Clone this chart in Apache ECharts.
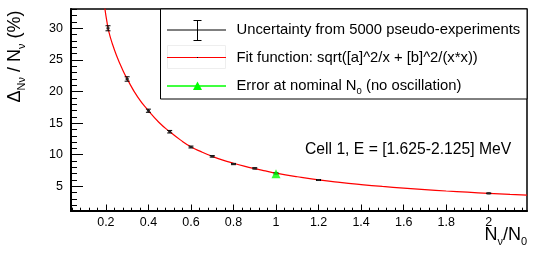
<!DOCTYPE html>
<html>
<head>
<meta charset="utf-8">
<script src="https://cdn.jsdelivr.net/npm/echarts@6/dist/echarts.min.js"></script>
<style>
html,body{margin:0;padding:0;background:#fff;}
#chart{width:540px;height:254px;}
</style>
</head>
<body>
<div id="chart"></div>
<script>
// ---- data ----
const pointX   = [0.21, 0.3, 0.4, 0.5, 0.6, 0.7, 0.8, 0.9, 1.0, 1.2, 2.0];
const pointY   = [30.0, 21.98, 16.96, 13.64, 11.22, 9.75, 8.53, 7.85, 7.05, 6.0, 3.89];
const pointErr = [0.4, 0.35, 0.25, 0.2, 0.15, 0.12, 0.1, 0.1, 0.1, 0.08, 0.06];
const nominalX = [1.0];
const nominalY = [6.98];
const curveX = [0.195, 0.205, 0.215, 0.23, 0.25, 0.275, 0.3, 0.35, 0.4, 0.45, 0.5, 0.55, 0.6, 0.65, 0.7, 0.75, 0.8, 0.85, 0.9, 0.95, 1.0, 1.1, 1.2, 1.3, 1.4, 1.5, 1.6, 1.7, 1.8, 1.9, 2.0, 2.1, 2.18];
const curveY = [33.2, 31.0, 29.3, 27.6, 25.7, 23.7, 22.0, 19.1, 16.96, 15.1, 13.64, 12.35, 11.25, 10.45, 9.75, 9.15, 8.65, 8.2, 7.8, 7.44, 7.09, 6.52, 6.02, 5.62, 5.28, 4.98, 4.72, 4.48, 4.26, 4.07, 3.89, 3.73, 3.62];
const xTickLabels = [0.2, 0.4, 0.6, 0.8, 1, 1.2, 1.4, 1.6, 1.8, 2];
const yTickLabels = [5, 10, 15, 20, 25, 30];
const xMinorStep = 0.04;
const yMinorStep = 1;

const X_MIN = 0.036, X_MAX = 2.18, Y_MIN = 1.1, Y_MAX = 33.05;

function minorTicks(min, max, step, majors) {
  const out = [];
  for (let i = Math.ceil(min / step - 1e-9); i * step <= max + 1e-9; i++) {
    const v = +(i * step).toFixed(6);
    if (!majors.some(m => Math.abs(m - v) < 1e-6)) out.push(v);
  }
  return out;
}
const xMinor = minorTicks(X_MIN, X_MAX, xMinorStep, xTickLabels);
const yMinor = minorTicks(Y_MIN, Y_MAX, yMinorStep, yTickLabels);

const FONT = 'Liberation Sans, Arial, Helvetica, sans-serif';
const chart = echarts.init(document.getElementById('chart'), null, {renderer: 'canvas'});

const pointData = pointX.map((x, i) => [x, pointY[i], pointErr[i]]);
const curveData = curveX.map((x, i) => [x, curveY[i]]);
const nominalData = nominalX.map((x, i) => [x, nominalY[i]]);

const bigRich = {
  m: {fontSize: 18, lineHeight: 18, fontFamily: FONT, verticalAlign: 'top', fill: '#000'},
  s: {fontSize: 11, lineHeight: 11, fontFamily: FONT, verticalAlign: 'top', padding: [10, 0, 0, 0], fill: '#000'}
};
const legRich = {
  m: {fontSize: 14.8, lineHeight: 15, fontFamily: FONT, verticalAlign: 'top', fill: '#000'},
  s: {fontSize: 9.5, lineHeight: 10, fontFamily: FONT, verticalAlign: 'top', padding: [8, 0, 0, 0], fill: '#000'}
};

const option = {
  animation: false,
  backgroundColor: '#fff',
  grid: {left: 71, right: 13, top: 9, bottom: 43, show: true, borderColor: '#000', borderWidth: 1.5, backgroundColor: 'transparent'},
  xAxis: [{
    type: 'value', min: X_MIN, max: X_MAX, position: 'bottom',
    axisLine: {show: true, onZero: false, lineStyle: {color: '#000', width: 2}},
    axisTick: {show: true, inside: true, length: 6.5, customValues: xTickLabels, lineStyle: {color: '#000', width: 1}},
    axisLabel: {show: true, customValues: xTickLabels, margin: 5, color: '#000', fontSize: 12.5, fontFamily: FONT,
      formatter: v => String(+v.toFixed(2))},
    splitLine: {show: false}
  }, {
    type: 'value', min: X_MIN, max: X_MAX, position: 'bottom', offset: 0,
    axisLine: {show: false, onZero: false},
    axisTick: {show: true, inside: true, length: 3.3, customValues: xMinor, lineStyle: {color: '#000', width: 1}},
    axisLabel: {show: false},
    splitLine: {show: false}
  }],
  yAxis: [{
    type: 'value', min: Y_MIN, max: Y_MAX, position: 'left',
    axisLine: {show: true, onZero: false, lineStyle: {color: '#000', width: 2}},
    axisTick: {show: true, inside: true, length: 12, customValues: yTickLabels, lineStyle: {color: '#000', width: 1}},
    axisLabel: {show: true, customValues: yTickLabels, margin: 8, color: '#000', fontSize: 12.5, fontFamily: FONT},
    splitLine: {show: false}
  }, {
    type: 'value', min: Y_MIN, max: Y_MAX, position: 'left', offset: 0,
    axisLine: {show: false, onZero: false},
    axisTick: {show: true, inside: true, length: 6, customValues: yMinor, lineStyle: {color: '#000', width: 1}},
    axisLabel: {show: false},
    splitLine: {show: false}
  }],
  series: [{
    type: 'line', data: curveData, xAxisIndex: 0, yAxisIndex: 0,
    smooth: 0.5, symbol: 'none', clip: true,
    lineStyle: {color: '#ff0000', width: 1.2}, z: 2
  }, {
    type: 'custom', data: pointData, xAxisIndex: 0, yAxisIndex: 0, z: 3,
    encode: {x: 0, y: 1},
    renderItem: function (params, api) {
      const x = api.value(0), y = api.value(1), e = api.value(2);
      const c = api.coord([x, y]);
      const t = api.coord([x, y + e]);
      const b = api.coord([x, y - e]);
      const st = {stroke: '#000', lineWidth: 1};
      return {type: 'group', children: [
        {type: 'line', shape: {x1: c[0], y1: t[1], x2: c[0], y2: b[1]}, style: st},
        {type: 'line', shape: {x1: c[0] - 2.5, y1: t[1], x2: c[0] + 2.5, y2: t[1]}, style: st},
        {type: 'line', shape: {x1: c[0] - 2.5, y1: b[1], x2: c[0] + 2.5, y2: b[1]}, style: st},
        {type: 'rect', shape: {x: c[0] - 1.5, y: c[1] - 1, width: 3, height: 2}, style: {fill: '#222'}}
      ]};
    }
  }, {
    type: 'scatter', data: nominalData, xAxisIndex: 0, yAxisIndex: 0, z: 4,
    symbol: 'triangle', symbolSize: [9, 9],
    itemStyle: {color: '#00ff00'}
  }],
  graphic: [
    // legend box
    {type: 'rect', z: 100, shape: {x: 160.5, y: 9, width: 366.5, height: 90}, style: {fill: '#fff', stroke: '#000', lineWidth: 1}},
    // row 1: error bar symbol
    {type: 'line', z: 101, shape: {x1: 167, y1: 30, x2: 226, y2: 30}, style: {stroke: '#000', lineWidth: 1}},
    {type: 'line', z: 101, shape: {x1: 197.5, y1: 20, x2: 197.5, y2: 41}, style: {stroke: '#000', lineWidth: 1}},
    {type: 'line', z: 101, shape: {x1: 193.5, y1: 20.5, x2: 201.5, y2: 20.5}, style: {stroke: '#000', lineWidth: 1}},
    {type: 'line', z: 101, shape: {x1: 193.5, y1: 40.5, x2: 201.5, y2: 40.5}, style: {stroke: '#000', lineWidth: 1}},
    {type: 'text', z: 101, style: {x: 236.5, y: 29.5, text: 'Uncertainty from 5000 pseudo-experiments', font: '14.8px ' + FONT, fill: '#000', verticalAlign: 'middle', align: 'left'}},
    // row 2: fit function
    {type: 'rect', z: 101, shape: {x: 167.5, y: 45.5, width: 58, height: 23}, style: {fill: 'none', stroke: '#eeeeee', lineWidth: 1}},
    {type: 'line', z: 101, shape: {x1: 167, y1: 57.5, x2: 226, y2: 57.5}, style: {stroke: '#ff0000', lineWidth: 1}},
    {type: 'rect', z: 102, shape: {x: 197, y: 57, width: 1, height: 1}, style: {fill: '#000'}},
    {type: 'text', z: 101, style: {x: 236.5, y: 57.5, text: 'Fit function: sqrt([a]^2/x + [b]^2/(x*x))', font: '14.8px ' + FONT, fill: '#000', verticalAlign: 'middle', align: 'left'}},
    // row 3: nominal
    {type: 'line', z: 101, shape: {x1: 167, y1: 86, x2: 226, y2: 86}, style: {stroke: '#00ff00', lineWidth: 1.5}},
    {type: 'polygon', z: 102, shape: {points: [[197.5, 81.5], [193, 90], [202, 90]]}, style: {fill: '#00ff00'}},
    {type: 'text', z: 101, style: {x: 236.5, y: 78.5, text: '{m|Error at nominal N}{s|0}{m| (no oscillation)}', rich: legRich, verticalAlign: 'top', align: 'left'}},
    // cell label
    {type: 'text', z: 101, style: {x: 305, y: 149.5, text: 'Cell 1, E = [1.625-2.125] MeV', font: '15.7px ' + FONT, fill: '#000', verticalAlign: 'middle', align: 'left'}},
    // y axis title
    {type: 'text', z: 101, x: 15, y: 56.5, rotation: Math.PI / 2,
      style: {x: 0, y: 0, text: '{m|Δ}{s|Nν}{m| / N}{s|ν}{m| (%)}', rich: bigRich, align: 'center', verticalAlign: 'middle'}},
    // x axis title
    {type: 'text', z: 101, style: {x: 527, y: 226, text: '{m|N}{s|ν}{m|/N}{s|0}', rich: bigRich, align: 'right', verticalAlign: 'top'}}
  ]
};
chart.setOption(option);
</script>
</body>
</html>
